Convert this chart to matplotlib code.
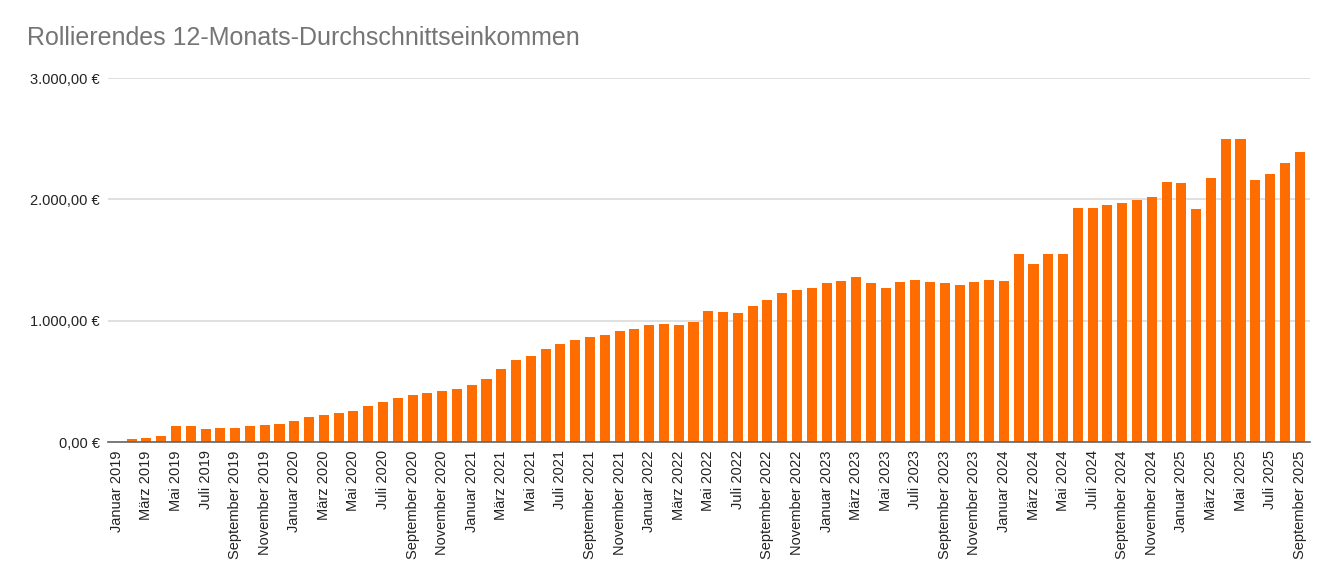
import matplotlib.pyplot as plt
from matplotlib.ticker import FuncFormatter

plt.rcParams['font.family'] = ['Liberation Sans', 'DejaVu Sans']

month_names = ["Januar", "Februar", "März", "April", "Mai", "Juni", "Juli",
               "August", "September", "Oktober", "November", "Dezember"]
years = [2019, 2020, 2021, 2022, 2023, 2024, 2025]
months = [f"{m} {y}" for y in years for m in month_names][:81]

income = [0, 25, 35, 46, 128, 128, 104, 118, 118, 128, 137, 148,
          170, 203, 219, 242, 252, 293, 332, 364, 384, 406, 417, 440,
          467, 522, 604, 676, 706, 769, 808, 841, 862, 882, 915, 932,
          965, 975, 965, 986, 1080, 1072, 1060, 1118, 1173, 1225, 1256, 1266,
          1308, 1327, 1357, 1308, 1266, 1319, 1338, 1319, 1308, 1297, 1319, 1338,
          1325, 1552, 1467, 1552, 1552, 1932, 1932, 1951, 1973, 1993, 2022, 2146,
          2138, 1921, 2179, 2498, 2498, 2157, 2212, 2303, 2393]

fig = plt.figure(figsize=(13.37, 5.88), dpi=100)
ax = fig.add_axes([108/1337, 1 - 442/588, (1310 - 108)/1337, (442 - 78)/588])

x = list(range(len(income)))
ax.bar(x, income, width=0.68, color="#ff6d01", zorder=3)

ax.set_ylim(0, 3000)
ax.set_xlim(-0.6, 80.7)
ax.set_yticks([0, 1000, 2000, 3000])
ax.yaxis.set_major_formatter(FuncFormatter(
    lambda v, p: f"{v:,.2f}".replace(",", "X").replace(".", ",").replace("X", ".") + " €"))
ax.grid(axis="y", color="#dadada", linewidth=1.2, zorder=0)

ax.set_xticks(x[::2])
ax.set_xticklabels(months[::2], rotation=90, fontsize=10.5, color="#222222")
ax.tick_params(axis="x", length=0, pad=6)
ax.tick_params(axis="y", length=0, labelsize=10.5, labelcolor="#222222", pad=6)

for s in ["top", "right", "left"]:
    ax.spines[s].set_visible(False)
ax.spines["bottom"].set_color("#666666")
ax.spines["bottom"].set_linewidth(1.2)
ax.spines["bottom"].set_zorder(4)

fig.text(27/1337, 1 - 38/588, "Rollierendes 12-Monats-Durchschnittseinkommen",
         fontsize=18, color="#757575", va="center", ha="left")

plt.savefig("out.png", dpi=100)
